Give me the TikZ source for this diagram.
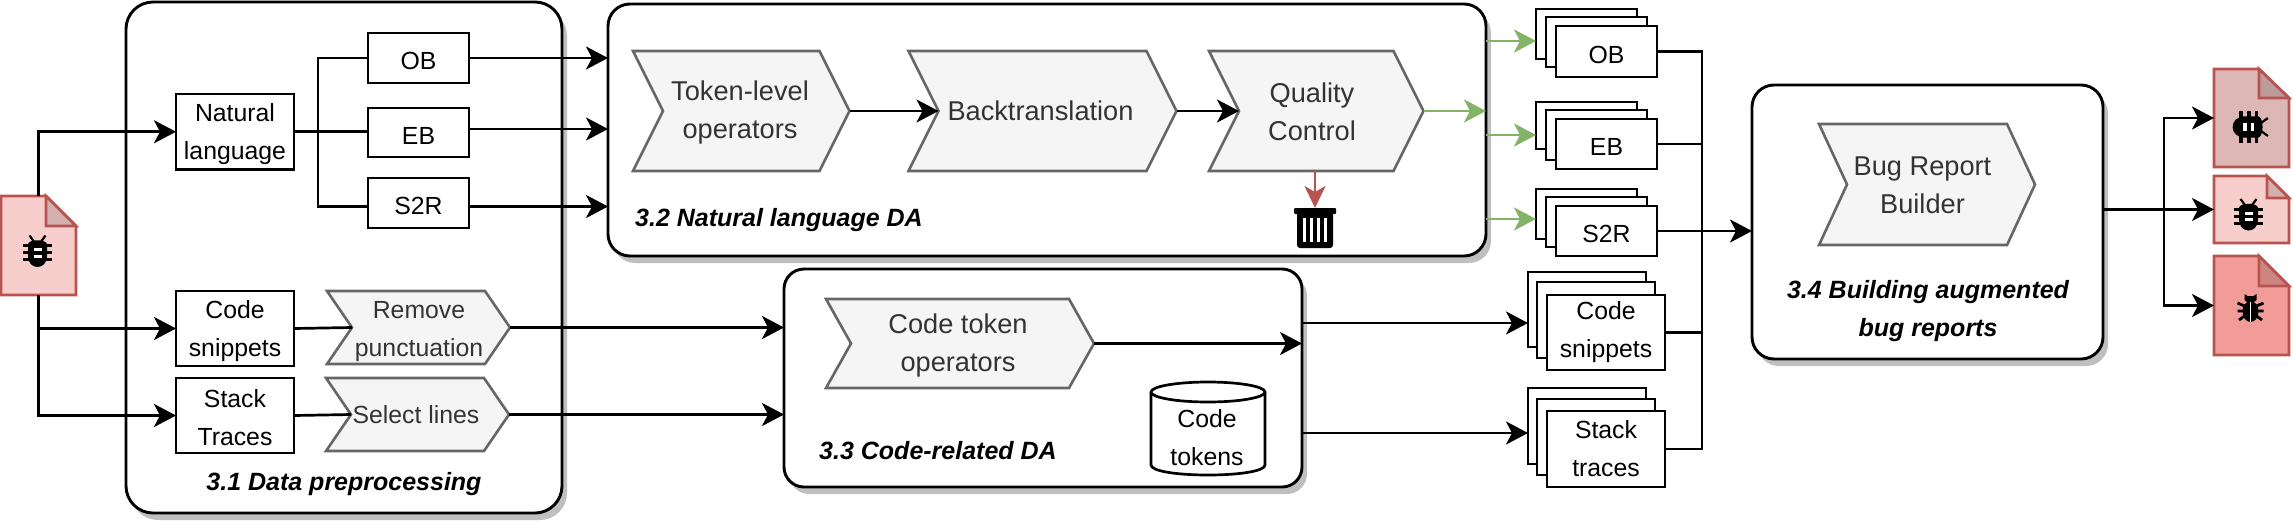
\documentclass[tikz,border=0pt]{standalone}
\usepackage{fontspec}
\setmainfont{Liberation Sans}
\usetikzlibrary{arrows.meta,shadows,fit}
\definecolor{chevfill}{HTML}{F5F5F5}
\definecolor{chevline}{HTML}{666666}
\definecolor{chevtxt}{HTML}{333333}
\definecolor{redline}{HTML}{B85450}
\definecolor{docA}{HTML}{DDB6B6}
\definecolor{docB}{HTML}{F8CECC}
\definecolor{docC}{HTML}{F19C99}
\definecolor{greenline}{HTML}{82B366}
\tikzset{
  lw/.style={line width=2.7pt},
  tipA/.tip={Stealth[length=22pt,width=23pt,inset=6pt]},
  conn/.style={lw,draw=black,line join=miter},
  arr/.style={conn,-{tipA}},
  garr/.style={lw,draw=greenline,-{Stealth[length=22pt,width=23pt,inset=6pt,fill=greenline]}},
  rarr/.style={line width=2.3pt,draw=redline,-{Stealth[length=22pt,width=21pt,inset=6pt,fill=redline]}},
  box/.style={draw=black,lw,fill=white,outer sep=0pt,inner sep=0pt},
  boxtext/.style={align=center,inner sep=0pt,font=\fontsize{24.8}{38}\selectfont},
  group/.style={draw=black,line width=2.9pt,fill=white,rounded corners=#1,outer sep=0pt,inner sep=0pt,
    general shadow={shadow xshift=5pt,shadow yshift=-7pt,fill=black!25}},
  grouplabel/.style={font=\fontsize{25}{38}\selectfont\bfseries\itshape,align=center,inner sep=0pt},
  chevshape/.style={draw=chevline,line width=2.6pt,fill=chevfill,line join=miter},
  chevt/.style={text=chevtxt,align=center,inner sep=0pt,font=\fontsize{\chevsize}{38}\selectfont},
  ghost/.style={inner sep=0pt,outer sep=0pt},
  docline/.style={draw=redline,line width=2.7pt,line join=miter},
}
\newcommand{\chevsize}{27.2}
% name, x0, x1, y0, y1, depth, text x, text y, text
\newcommand{\chevbox}[9]{
  \path[chevshape] (#2,#4) -- ({#3-#6},#4) -- (#3,{(#4+#5)/2}) -- ({#3-#6},#5) -- (#2,#5) -- ({#2+#6},{(#4+#5)/2}) -- cycle;
  \coordinate (#1-a) at (#2,#4);
  \coordinate (#1-b) at (#3,#5);
  \node[ghost,fit=(#1-a)(#1-b)] (#1) {};
  \coordinate (#1-in) at ({#2+#6},{(#4+#5)/2});
  \node[chevt] (#1-text) at (#7,#8) {#9};
}
% name, x0, x1, y0, y1, fold x, fold y, fill
\newcommand{\docbox}[8]{
  \path[docline,fill=#8] (#2,#4) -- (#6,#4) -- (#3,#7) -- (#3,#5) -- (#2,#5) -- cycle;
  \path[docline,fill=#8!85!black] (#6,#4) -- (#3,#7) -- (#6,#7) -- cycle;
  \coordinate (#1-a) at (#2,#4);
  \coordinate (#1-b) at (#3,#5);
  \node[ghost,fit=(#1-a)(#1-b)] (#1) {};
}
% name, x0, x1, y0, y1 of one sheet
\newcommand{\sheet}[5]{
  \node[box,minimum width={(#3-#2)*1pt},minimum height={(#5-#4)*1pt}] (#1) at ({(#2+#3)/2},{(#4+#5)/2}) {};
}
% sheet name, downward offset, text
\newcommand{\sheettext}[3]{
  \node[boxtext] (#1-text) at ([yshift=-#2pt]#1.center) {#3};
}
\newcommand{\bugA}[4]{
  \begin{scope}[shift={(#1,#2)},rotate=#4,scale=#3]
    \fill[black] (-9.5,-7) .. controls (-8,-12) and (8,-12) .. (9.5,-7) -- (9.5,5) .. controls (9.5,12) and (5,16) .. (0,16) .. controls (-5,16) and (-9.5,12) .. (-9.5,5) -- cycle;
    \draw[black,line width=2.2pt] (-4,-10) -- (-8,-15.5) (4,-10) -- (8,-15.5);
    \fill[black] (-14.5,-7) rectangle (14.5,-4);
    \fill[black] (-14.5,0) rectangle (14.5,3.3);
    \fill[black] (-14.5,7) rectangle (14.5,10);
    \fill[white] (-4,-3) rectangle (4,0);
    \fill[white] (-4,3.5) rectangle (4,6.7);
  \end{scope}
}
\newcommand{\bugB}[3]{
  \begin{scope}[shift={(#1,#2)},scale=#3]
    \fill[black] (-6,-14) -- (-3,-12) -- (3,-12) -- (6,-14) -- (6,-8) .. controls (5,-5) and (-5,-5) .. (-6,-8) -- cycle;
    \fill[black] (0,3.5) ellipse [x radius=8pt,y radius=10.5pt];
    \draw[white,line width=1.6pt] (0,-6) -- (0,14);
    \draw[black,line width=2.8pt] (-13,-5) -- (-6,-2) (13,-5) -- (6,-2) (-13,3) -- (-6,3) (13,3) -- (6,3) (-11.5,12) -- (-6,8) (11.5,12) -- (6,8);
  \end{scope}
}
\begin{document}
\begin{tikzpicture}[x=1pt,y=-1pt,font=\fontsize{24.8}{38}\selectfont]
\useasboundingbox (0,0) rectangle (2293,523);
% groups
\node[group=27pt,minimum width=436pt,minimum height=511pt] (g31) at (344,257.5) {};
\node[group=22pt,minimum width=878pt,minimum height=252pt] (g32) at (1047,130) {};
\node[group=20pt,minimum width=518pt,minimum height=218pt] (g33) at (1043,378) {};
\node[group=22pt,minimum width=351pt,minimum height=274pt] (g34) at (1927.5,222) {};
% group labels
\node[grouplabel] (l31) at (344,484) {3.1 Data preprocessing};
\node[grouplabel] (l32) at (779,220) {3.2 Natural language DA};
\node[grouplabel] (l33) at (938,451) {3.3 Code-related DA};
\node[grouplabel] (l34) at (1928,311) {3.4 Building augmented\\bug reports};
% source document
\docbox{doc0}{1}{76}{196}{295}{46}{226}{docB}
\bugA{37.5}{251}{1}{0}
% 3.1 boxes
\sheet{nl}{176}{294}{94}{169.5}\sheettext{nl}{2.5}{Natural\\language}
\sheet{code}{176}{294}{291}{366}\sheettext{code}{3}{Code\\snippets}
\sheet{stack}{176}{294}{378}{453}\sheettext{stack}{2.5}{Stack\\Traces}
\sheet{ob}{368}{469}{33}{83}\sheettext{ob}{3}{OB}
\sheet{eb}{368}{469}{108}{157}\sheettext{eb}{3}{EB}
\sheet{sr}{368}{469}{178}{228}\sheettext{sr}{3}{S2R}
\renewcommand{\chevsize}{24.8}
\chevbox{rp}{327}{510}{291}{364}{25}{419}{332}{Remove\\punctuation}
\chevbox{sl}{326}{509}{378}{451}{25}{416}{415}{Select lines}
\renewcommand{\chevsize}{27.2}
% 3.2
\chevbox{tl}{633}{849.5}{51}{171}{30}{740}{112}{Token-level\\operators}
\chevbox{bt}{908.5}{1176.5}{51}{171}{30}{1040.5}{111}{Backtranslation}
\chevbox{qc}{1209}{1423.5}{51}{171}{30}{1312}{112}{Quality\\Control}
% trash
\node[ghost,minimum width=42pt,minimum height=40pt] (trash) at (1315,228) {};
\fill[black,rounded corners=1pt] (1294,208) rectangle (1336,214);
\fill[black,rounded corners=3pt] (1297,212) rectangle (1333,248);
\foreach \tx in {1303,1310,1317,1324}{\fill[white] (\tx,218) rectangle ({\tx+3},242);}
% 3.3
\chevbox{ct}{826}{1094}{299}{388}{25}{958}{345}{Code token\\operators}
\path[draw=black,lw,fill=white] (1151,392) -- (1151,465) .. controls (1151,471) and (1176,475) .. (1208,475) .. controls (1240,475) and (1265,471) .. (1265,465) -- (1265,392);
\path[draw=black,lw,fill=white] (1208,392) ellipse [x radius=57pt,y radius=10pt];
\node[boxtext] (tok) at (1207,438) {Code\\tokens};
% output stacks
\sheet{obA}{1536}{1637}{9}{59}
\sheet{obB}{1546}{1647}{17}{67}
\sheet{obC}{1556}{1657}{26}{77}\sheettext{obC}{3}{OB}
\sheet{ebA}{1536}{1637}{102}{149}
\sheet{ebB}{1546}{1647}{110}{160}
\sheet{ebC}{1556}{1657}{119}{169}\sheettext{ebC}{3}{EB}
\sheet{srA}{1536}{1637}{189}{239}
\sheet{srB}{1546}{1647}{197}{247}
\sheet{srC}{1556}{1657}{206}{256}\sheettext{srC}{3}{S2R}
\sheet{csA}{1528}{1646}{272}{347}
\sheet{csB}{1537}{1655}{282}{358}
\sheet{csC}{1547}{1665}{295}{370}\sheettext{csC}{0}{Code\\snippets}
\sheet{stA}{1528}{1646}{388}{464}
\sheet{stB}{1537}{1655}{399}{475}
\sheet{stC}{1547}{1665}{411}{487}\sheettext{stC}{0}{Stack\\traces}
% 3.4
\chevbox{br}{1819}{2035}{124}{245}{28}{1922.5}{185}{Bug Report\\Builder}
% output documents
\docbox{doc1}{2214}{2289}{69}{167}{2259}{98}{docA}
\docbox{doc2}{2214}{2289}{176}{243}{2267}{198}{docB}
\docbox{doc3}{2214}{2289}{256}{355}{2259}{286}{docC}
\bugA{2250.5}{127}{1.12}{-90}
\bugA{2248.5}{214.5}{1}{0}
\bugB{2250.5}{308}{1}
% connectors
\coordinate (junc) at (318,131.5);
\draw[arr] (doc0.north) |- (nl.west);
\draw[arr] (doc0.south) |- (code.west);
\draw[arr] (doc0.south) |- (stack.west);
\draw[conn] (nl.east) -- (eb.west |- nl.east);
\draw[conn] (junc) |- (ob.west |- 0,58);
\draw[conn] (junc) |- (sr.west |- 0,206.5);
\draw[arr] (ob.east |- 0,58) -- (g32.west |- 0,58);
\draw[arr] (eb.east |- 0,129) -- (g32.west |- 0,129);
\draw[arr] (sr.east |- 0,206.5) -- (g32.west |- 0,206.5);
\draw[conn] (code.east) -- (rp-in);
\draw[conn] (stack.east) -- (sl-in);
\draw[arr] (rp.east) -- (g33.west |- rp.east);
\draw[arr] (sl.east) -- (g33.west |- sl.east);
\draw[arr] (tl.east) -- (bt-in);
\draw[arr] (bt.east) -- (qc-in);
\draw[garr] (qc.east) -- (g32.east |- qc.east);
\draw[rarr] (qc.south -| trash.north) -- (trash.north);
\draw[arr] (ct.east) -- (g33.east |- ct.east);
\draw[arr] (g33.east |- 0,323) -- (csA.west |- 0,323);
\draw[arr] (g33.east |- 0,433) -- (stA.west |- 0,433);
\draw[garr] (g32.east |- 0,41) -- (obA.west |- 0,41);
\draw[garr] (g32.east |- 0,135) -- (ebA.west |- 0,135);
\draw[garr] (g32.east |- 0,219) -- (srA.west |- 0,219);
\coordinate (merge) at (1702,231);
\draw[conn] (obC.east) -| (merge);
\draw[conn] (stC.east) -| (merge);
\draw[conn] (ebC.east) -- (ebC.east -| merge);
\draw[conn] (csC.east) -- (csC.east -| merge);
\draw[arr] (srC.east) -- (g34.west |- srC.east);
\coordinate (branch) at (2164,209.5);
\draw[arr] (g34.east |- doc2.west) -- (doc2.west);
\draw[arr] (branch) |- (doc1.west);
\draw[arr] (branch) |- (doc3.west);
\end{tikzpicture}
\end{document}
